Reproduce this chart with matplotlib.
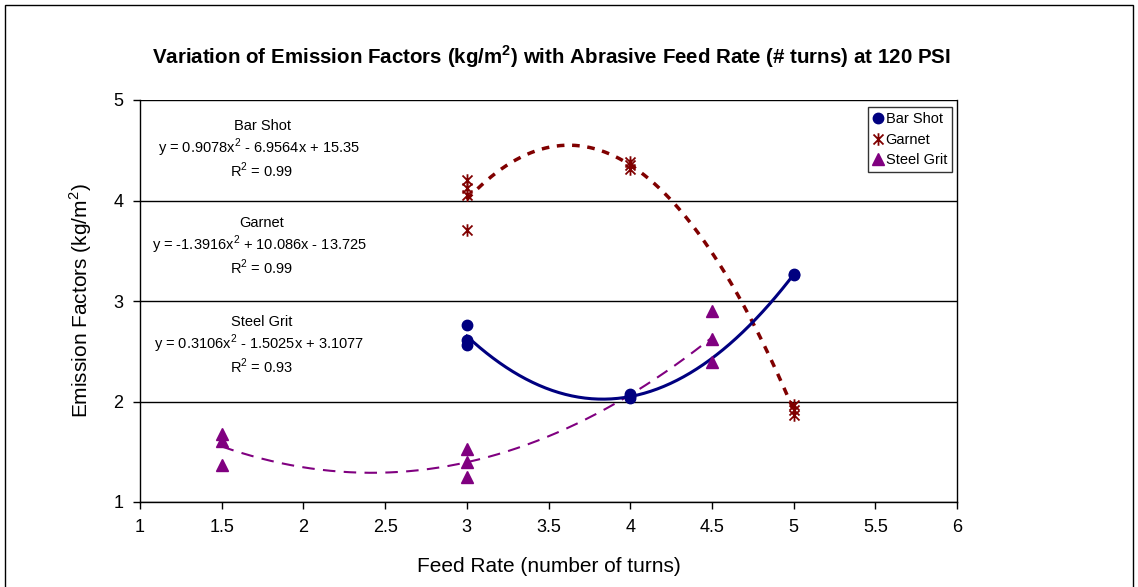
import numpy as np
import matplotlib
matplotlib.use("Agg")
import matplotlib.pyplot as plt
from matplotlib.path import Path
from matplotlib.patches import Rectangle

plt.rcParams['font.family'] = ['Liberation Sans', 'DejaVu Sans']
plt.rcParams['mathtext.fontset'] = 'custom'
plt.rcParams['mathtext.rm'] = 'Liberation Sans'
plt.rcParams['mathtext.bf'] = 'Liberation Sans:bold'

# Measured emission factors (kg/m^2) per feed rate (number of turns)
bar_shot_x = [3, 3, 3, 4, 4, 4, 5, 5]
bar_shot_y = [2.76, 2.61, 2.56, 2.07, 2.03, 2.05, 3.27, 3.26]

garnet_x = [3, 3, 3, 3, 4, 4, 4, 5, 5, 5]
garnet_y = [4.20, 4.12, 4.05, 3.71, 4.38, 4.35, 4.31, 1.97, 1.92, 1.87]

steel_grit_x = [1.5, 1.5, 1.5, 3, 3, 3, 4.5, 4.5, 4.5]
steel_grit_y = [1.68, 1.61, 1.37, 1.53, 1.40, 1.25, 2.90, 2.62, 2.39]

# Polynomial trendline coefficients (a, b, c for a x^2 + b x + c)
bar_shot_fit = [0.9078, -6.9564, 15.35]
garnet_fit = [-1.3916, 10.086, -13.725]
steel_grit_fit = [0.3106, -1.5025, 3.1077]

x_ticks = [1, 1.5, 2, 2.5, 3, 3.5, 4, 4.5, 5, 5.5, 6]
x_tick_labels = ["1", "1.5", "2", "2.5", "3", "3.5", "4", "4.5", "5", "5.5", "6"]
y_ticks = [1, 2, 3, 4, 5]

NAVY = "#000080"
MAROON = "#800000"
PURPLE = "#800080"

# Asterisk-style marker: an X with a vertical stroke
star_verts = [(-1, -1), (1, 1), (-1, 1), (1, -1), (0, -1.25), (0, 1.25)]
star_codes = [Path.MOVETO, Path.LINETO] * 3
star_marker = Path(star_verts, star_codes)

fig = plt.figure(figsize=(11.38, 5.87), dpi=100)
fig.patches.append(Rectangle((5 / 1138, -0.05), 1128 / 1138, 1.05 - 5 / 587,
                             transform=fig.transFigure, fill=False,
                             edgecolor="black", linewidth=1.0))

ax = fig.add_axes([140 / 1138, 1 - 502 / 587, 817 / 1138, 402 / 587])

# Trendlines
def trend(coefs, lo, hi):
    xs = np.linspace(lo, hi, 200)
    return xs, np.polyval(coefs, xs)

xs, ys = trend(steel_grit_fit, min(steel_grit_x), max(steel_grit_x))
ax.plot(xs, ys, color=PURPLE, lw=1.5, ls=(0, (6, 4)), zorder=3)
xs, ys = trend(garnet_fit, min(garnet_x), max(garnet_x))
ax.plot(xs, ys, color=MAROON, lw=2.5, ls=(0, (2.2, 2.2)), zorder=3)
xs, ys = trend(bar_shot_fit, min(bar_shot_x), max(bar_shot_x))
ax.plot(xs, ys, color=NAVY, lw=2.2, zorder=3)

# Data points
ax.plot(bar_shot_x, bar_shot_y, ls="none", marker="o", ms=7.5,
        color=NAVY, mec=NAVY, label="Bar Shot", zorder=4)
ax.plot(garnet_x, garnet_y, ls="none", marker=star_marker, ms=9,
        mfc="none", mec=MAROON, mew=1.3, label="Garnet", zorder=4)
ax.plot(steel_grit_x, steel_grit_y, ls="none", marker="^", ms=8,
        color=PURPLE, mec=PURPLE, label="Steel Grit", zorder=4)

ax.set_xlim(1, 6)
ax.set_ylim(1, 5)
ax.set_xticks(x_ticks)
ax.set_xticklabels(x_tick_labels)
ax.set_yticks(y_ticks)
ax.yaxis.grid(True, color="black", lw=1.0)
ax.set_axisbelow(True)
ax.tick_params(direction="out", length=5, width=1, labelsize=13, pad=7)
for side in ("top", "right", "left", "bottom"):
    ax.spines[side].set_linewidth(1.0)
ax.spines["top"].set_visible(False)

ax.set_xlabel("Feed Rate (number of turns)", fontsize=15, labelpad=15)
ax.set_ylabel("Emission Factors (kg/m$^2$)", fontsize=15, labelpad=14)

fig.text(551 / 1138, 1 - 57 / 587,
         "Variation of Emission Factors (kg/m$^\\mathbf{2}$) with Abrasive Feed Rate (# turns) at 120 PSI",
         ha="center", va="center", fontsize=14.8, fontweight="bold")

# Trendline equations
def eq_text(coefs):
    a, b, c = coefs
    def term(v, first=False):
        s = f"{abs(v):g}"
        if first:
            return ("-" if v < 0 else "") + s
        return (" - " if v < 0 else " + ") + s
    return f"y = {term(a, True)}x$^2${term(b)}x{term(c)}"

labels = [("Bar Shot", bar_shot_fit, "0.99", 126),
          ("Garnet", garnet_fit, "0.99", 223),
          ("Steel Grit", steel_grit_fit, "0.93", 322)]
for name, coefs, r2, ypx in labels:
    cx = 262 / 1138
    fig.text(cx, 1 - ypx / 587, name, ha="center", va="center", fontsize=10.5)
    fig.text(cx - 3 / 1138, 1 - (ypx + 22) / 587, eq_text(coefs),
             ha="center", va="center", fontsize=10.5)
    fig.text(cx, 1 - (ypx + 44) / 587, f"R$^2$ = {r2}",
             ha="center", va="center", fontsize=10.5)

leg = ax.legend(loc="upper right", bbox_to_anchor=(0.9939, 0.9826), fontsize=10.5,
                frameon=True, fancybox=False, edgecolor="black",
                handlelength=0.6, handletextpad=0.25, borderpad=0.35,
                labelspacing=0.45, borderaxespad=0.0)
leg.get_frame().set_linewidth(1.0)

fig.savefig("out.png", dpi=100)
